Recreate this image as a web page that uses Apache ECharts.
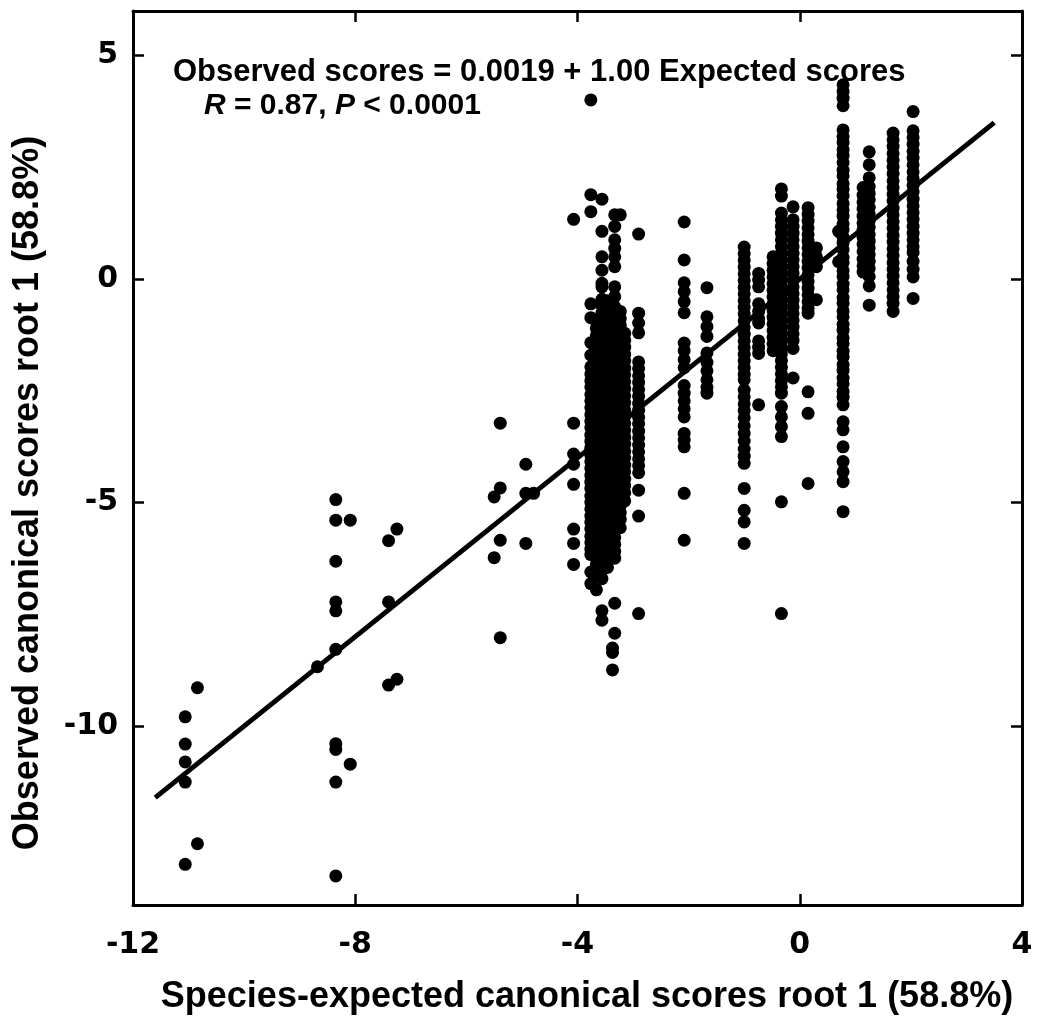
<!DOCTYPE html>
<html>
<head>
<meta charset="utf-8">
<title>Observed vs species-expected canonical scores</title>
<script src="https://cdn.jsdelivr.net/npm/echarts@6/dist/echarts.min.js"></script>
<style>
  html, body { margin: 0; padding: 0; background: #ffffff; }
  #chart { width: 1040px; height: 1030px; }
</style>
</head>
<body>
<div id="chart"></div>
<script>
// Axis ticks
const xTicks = [-12, -8, -4, 0, 4];
const yTicks = [-10, -5, 0, 5];

// Fitted regression: Observed = intercept + slope * Expected
const fitIntercept = 0.0019;
const fitSlope = 1.00;
const fitRange = [-11.6, 3.5];

// Scatter points, grouped by expected-score column (x) with observed scores (y)
const lowX = [-11.06, -10.84, -8.68, -8.35, -8.09, -7.40, -7.25, -5.50, -5.39, -4.93, -4.79, -4.07];
const lowY = [
  [-9.79, -10.40, -10.80, -11.25, -13.09],
  [-9.14, -12.63],
  [-8.67],
  [-4.93, -5.39, -6.31, -7.22, -7.42, -8.28, -10.39, -10.52, -11.25, -13.35],
  [-5.39, -10.85],
  [-5.85, -7.22, -9.08],
  [-5.59, -8.95],
  [-4.87, -6.23],
  [-3.22, -4.67, -5.84, -8.02],
  [-4.14, -4.79, -5.91],
  [-4.79],
  [1.34, -3.22, -3.91, -4.14, -4.59, -5.59, -5.91, -6.38]
];

const clusterX = [-3.76, -3.66, -3.56, -3.46, -3.33, -3.37, -3.23, -3.15, -2.90];
const clusterY = [
  [4.01, 1.89, 1.51, -0.55, -0.86, -1.42, -1.70, -1.96, -2.12, -2.27, -2.41, -2.58, -2.72, -2.87, -3.03, -3.18,
   -3.32, -3.49, -3.63, -3.78, -3.94, -4.08, -4.23, -4.39, -4.54, -4.68, -4.85, -4.99, -5.14, -5.30, -5.44,
   -5.59, -5.75, -5.89, -6.04, -6.16, -6.55, -6.81],
  [-0.95, -1.10, -1.26, -1.41, -1.57, -1.72, -1.88, -2.03, -2.19, -2.34, -2.50, -2.65, -2.81, -2.96, -3.12,
   -3.27, -3.43, -3.58, -3.74, -3.89, -4.05, -4.20, -4.36, -4.51, -4.67, -4.82, -4.98, -5.13, -5.29, -5.44,
   -5.60, -5.75, -5.91, -6.06, -6.22, -6.37, -6.62, -6.95],
  [1.79, 1.07, 0.50, 0.20, -0.09, -0.17, -0.45, -0.60, -0.76, -0.91, -1.07, -1.22, -1.38, -1.53, -1.69, -1.84,
   -2.00, -2.15, -2.31, -2.46, -2.62, -2.77, -2.93, -3.08, -3.24, -3.39, -3.55, -3.70, -3.86, -4.01, -4.17,
   -4.32, -4.48, -4.63, -4.79, -4.94, -5.10, -5.25, -5.41, -5.56, -5.72, -5.87, -6.03, -6.18, -6.34, -6.52,
   -6.70, -7.42, -7.63],
  [-0.48, -0.63, -0.79, -0.94, -1.10, -1.25, -1.41, -1.56, -1.72, -1.87, -2.03, -2.18, -2.34, -2.49, -2.65,
   -2.80, -2.96, -3.11, -3.27, -3.42, -3.58, -3.73, -3.89, -4.04, -4.20, -4.35, -4.51, -4.66, -4.82, -4.97,
   -5.13, -5.28, -5.44, -5.59, -5.75, -5.90, -6.06, -6.21, -6.45],
  [1.44, 1.18, 0.88, 0.69, 0.50, 0.28, -0.17, -0.39, -0.62, -0.80, -0.97, -1.13, -1.28, -1.44, -1.59, -1.75,
   -1.90, -2.06, -2.21, -2.37, -2.52, -2.68, -2.83, -2.99, -3.14, -3.30, -3.45, -3.61, -3.76, -3.92, -4.07,
   -4.23, -4.38, -4.54, -4.69, -4.85, -5.00, -5.16, -5.31, -5.47, -5.62, -5.78, -5.93, -6.09, -6.24, -7.25,
   -7.92],
  [-8.25, -8.35, -8.74],
  [1.44, -0.72, -0.88, -1.03, -1.19, -1.34, -1.50, -1.65, -1.81, -1.96, -2.12, -2.27, -2.43, -2.58, -2.74,
   -2.89, -3.05, -3.20, -3.36, -3.51, -3.67, -3.82, -3.98, -4.13, -4.29, -4.44, -4.60, -4.75, -4.91, -5.06,
   -5.22, -5.37, -5.56],
  [-1.21, -1.37, -1.52, -1.68, -1.83, -1.99, -2.14, -2.30, -2.45, -2.61, -2.76, -2.92, -3.07, -3.23, -3.38,
   -3.54, -3.69, -3.85, -4.00, -4.16, -4.31, -4.47, -4.62, -4.78, -4.96],
  [1.01, -0.76, -0.98, -1.20, -1.85, -2.00, -2.16, -2.31, -2.47, -2.62, -2.78, -2.93, -3.09, -3.24, -3.40,
   -3.55, -3.71, -3.86, -4.02, -4.17, -4.33, -4.72, -5.30, -7.48]
];

const midX = [-2.08, -1.67, -1.00, -0.74, -0.48, -0.33, -0.12, 0.15, 0.30];
const midY = [
  [1.28, 0.43, -0.08, -0.28, -0.50, -0.75, -1.43, -1.60, -1.80, -1.98, -2.38, -2.55, -2.72, -2.90, -3.08,
   -3.45, -3.60, -3.75, -4.79, -5.84],
  [-0.19, -0.84, -1.06, -1.28, -1.65, -1.86, -2.05, -2.25, -2.42, -2.55],
  [0.72, 0.57, 0.42, 0.27, 0.12, -0.03, -0.18, -0.33, -0.48, -0.63, -0.78, -0.93, -1.08, -1.23, -1.38, -1.53,
   -1.68, -1.83, -1.98, -2.13, -2.25, -2.48, -2.63, -2.79, -2.94, -3.10, -3.28, -3.45, -3.62, -3.80, -3.96,
   -4.12, -4.68, -5.17, -5.43, -5.91],
  [0.13, -0.02, -0.17, -0.55, -0.72, -0.88, -0.98, -1.38, -1.52, -1.66, -2.81],
  [0.50, 0.35, 0.20, 0.05, -0.10, -0.25, -0.40, -0.55, -0.70, -0.85, -1.00, -1.15, -1.30, -1.45, -1.60],
  [2.02, 1.86, 1.48, 1.33, 1.18, 1.03, 0.88, 0.73, 0.58, 0.43, 0.28, 0.13, -0.02, -0.17, -0.32, -0.47, -0.62,
   -0.77, -0.92, -1.07, -1.22, -1.37, -1.52, -1.67, -1.82, -1.97, -2.12, -2.27, -2.41, -2.55, -2.85, -3.08,
   -3.30, -3.52, -4.98, -7.48],
  [1.62, 1.33, 1.18, 1.03, 0.88, 0.73, 0.58, 0.43, 0.28, 0.13, -0.02, -0.17, -0.32, -0.47, -0.62, -0.77,
   -0.92, -1.07, -1.22, -1.37, -1.55, -2.21],
  [1.60, 1.45, 1.30, 1.15, 1.00, 0.85, 0.70, 0.55, 0.40, 0.25, 0.10, -0.05, -0.20, -0.35, -0.50, -0.65, -0.76,
   -2.52, -3.00, -4.57],
  [0.70, 0.50, 0.28, -0.46]
];

const highX = [0.70, 0.78, 1.14, 1.25, 1.68, 2.04];
const highY = [
  [1.07, 0.39],
  [4.35, 4.20, 4.05, 3.88, 3.34, 3.19, 3.06, 2.90, 2.77, 2.61, 2.44, 2.31, 2.14, 2.01, 1.86, 1.69, 1.55, 1.41,
   1.24, 1.11, 0.94, 0.81, 0.66, 0.49, 0.36, 0.19, 0.06, -0.11, -0.24, -0.41, -0.54, -0.71, -0.84, -1.01,
   -1.14, -1.31, -1.44, -1.61, -1.74, -1.91, -2.04, -2.21, -2.34, -2.51, -2.64, -2.81, -3.19, -3.37, -3.75,
   -4.08, -4.31, -4.53, -5.20],
  [2.05, 1.88, 1.72, 1.57, 1.41, 1.25, 1.10, 0.94, 0.78, 0.62, 0.45, 0.30, 0.16],
  [2.85, 2.56, 2.27, 2.07, 1.92, 1.77, 1.61, 1.46, 1.31, 1.16, 1.00, 0.85, 0.70, 0.55, 0.40, 0.24, 0.06,
   -0.15, -0.58],
  [3.27, 3.12, 2.97, 2.81, 2.66, 2.51, 2.36, 2.20, 2.05, 1.90, 1.75, 1.59, 1.44, 1.29, 1.14, 0.98, 0.83, 0.68,
   0.53, 0.37, 0.22, 0.07, -0.08, -0.24, -0.39, -0.54, -0.72],
  [3.75, 3.32, 3.17, 3.02, 2.86, 2.71, 2.56, 2.40, 2.25, 2.10, 1.95, 1.79, 1.64, 1.49, 1.34, 1.18, 1.03, 0.88,
   0.73, 0.60, 0.40, 0.22, 0.05, -0.43]
];

// Text
const equationText = 'Observed scores = 0.0019 + 1.00 Expected scores';
const statsText = '{it|R} = 0.87, {it|P} < 0.0001';
const xTitle = 'Species-expected canonical scores root 1 (58.8%)';
const yTitle = 'Observed canonical scores root 1 (58.8%)';

// Flatten column groups into [x, y] pairs
function pairs(xs, ys) {
  const out = [];
  xs.forEach((x, i) => ys[i].forEach(y => out.push([x, y])));
  return out;
}
const points = [].concat(
  pairs(lowX, lowY), pairs(clusterX, clusterY), pairs(midX, midY), pairs(highX, highY)
);
const fitLine = fitRange.map(x => [x, fitIntercept + fitSlope * x]);

const sansBold = 'Liberation Sans, Arial, sans-serif';
const tickFont = 'DejaVu Sans, sans-serif';

const frameLine = { show: true, onZero: false, lineStyle: { color: '#000', width: 3 } };
const frameTick = { show: true, inside: true, length: 11, lineStyle: { color: '#000', width: 2.5 } };

const chart = echarts.init(document.getElementById('chart'), null, { renderer: 'canvas' });
chart.setOption({
  animation: false,
  backgroundColor: '#ffffff',
  grid: { left: 133, right: 18, top: 11, bottom: 125, containLabel: false },
  xAxis: [
    {
      type: 'value', position: 'bottom', min: xTicks[0], max: xTicks[xTicks.length - 1],
      axisLine: frameLine,
      axisTick: Object.assign({}, frameTick, { customValues: xTicks }),
      axisLabel: {
        customValues: xTicks, color: '#000', fontSize: 30, fontWeight: 'bold',
        fontFamily: tickFont, margin: 25
      },
      splitLine: { show: false }
    },
    {
      type: 'value', position: 'top', min: xTicks[0], max: xTicks[xTicks.length - 1],
      axisLine: frameLine,
      axisTick: Object.assign({}, frameTick, { customValues: xTicks }),
      axisLabel: { show: false },
      splitLine: { show: false }
    }
  ],
  yAxis: [
    {
      type: 'value', position: 'left', min: -14, max: 6,
      axisLine: frameLine,
      axisTick: Object.assign({}, frameTick, { customValues: yTicks }),
      axisLabel: {
        customValues: yTicks, color: '#000', fontSize: 30, fontWeight: 'bold',
        fontFamily: tickFont, margin: 15
      },
      splitLine: { show: false }
    },
    {
      type: 'value', position: 'right', min: -14, max: 6,
      axisLine: frameLine,
      axisTick: Object.assign({}, frameTick, { customValues: yTicks }),
      axisLabel: { show: false },
      splitLine: { show: false }
    }
  ],
  series: [
    {
      type: 'scatter', xAxisIndex: 0, yAxisIndex: 0,
      symbol: 'circle', symbolSize: 13,
      itemStyle: { color: '#000', opacity: 1 },
      emphasis: { disabled: true },
      data: points
    },
    {
      type: 'line', xAxisIndex: 0, yAxisIndex: 0,
      showSymbol: false, symbol: 'none',
      lineStyle: { color: '#000', width: 5, cap: 'butt' },
      data: fitLine, z: 3
    }
  ],
  graphic: [
    {
      type: 'text', x: 173, y: 72,
      style: {
        text: equationText, fill: '#000', fontSize: 31, fontWeight: 'bold',
        fontFamily: sansBold, align: 'left', verticalAlign: 'middle'
      }
    },
    {
      type: 'text', x: 204, y: 106,
      style: {
        text: statsText, fill: '#000', fontSize: 30, fontWeight: 'bold',
        fontFamily: sansBold, align: 'left', verticalAlign: 'middle',
        rich: {
          it: { fontSize: 30, fontWeight: 'bold', fontStyle: 'italic', fontFamily: sansBold, fill: '#000' }
        }
      }
    },
    {
      type: 'text', x: 587, y: 997,
      style: {
        text: xTitle, fill: '#000', fontSize: 36, fontWeight: 'bold',
        fontFamily: sansBold, align: 'center', verticalAlign: 'middle'
      }
    },
    {
      type: 'text', x: 28, y: 493, rotation: Math.PI / 2,
      style: {
        text: yTitle, fill: '#000', fontSize: 36, fontWeight: 'bold',
        fontFamily: sansBold, align: 'center', verticalAlign: 'middle'
      }
    }
  ]
});
</script>
</body>
</html>
